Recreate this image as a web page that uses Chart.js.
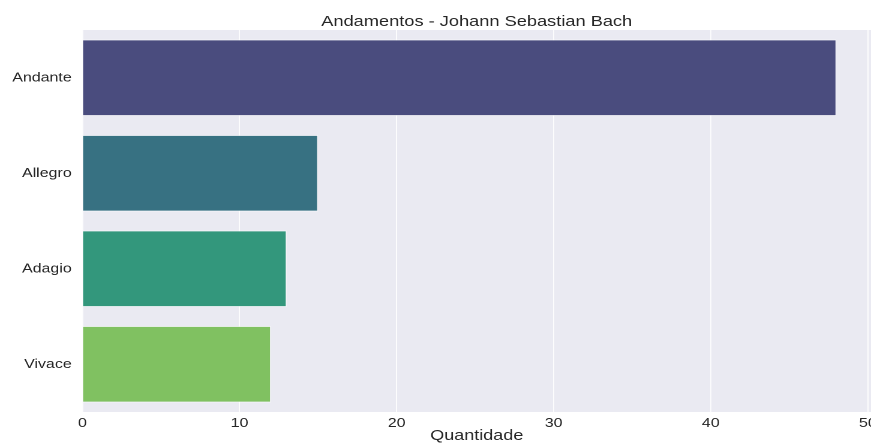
<!DOCTYPE html>
<html>
<head>
<meta charset="utf-8">
<title>Andamentos - Johann Sebastian Bach</title>
<script src="https://cdn.jsdelivr.net/npm/chart.js@4.4.1/dist/chart.umd.min.js"></script>
<style>
  html, body { margin: 0; padding: 0; background: #fff; overflow: hidden; }
  /* the figure is drawn narrow and widened, like a stretched matplotlib export */
  #wrap { width: 726px; height: 443px; transform: scale(1.1997, 1); transform-origin: 0 0; }
</style>
</head>
<body>
<div id="wrap"><canvas id="chart" width="726" height="443"></canvas></div>
<script>
const andamentos = ['Andante', 'Allegro', 'Adagio', 'Vivace'];
const quantidades = [48, 15, 13, 12];
const barColors = ['#4a4c7e', '#377182', '#33977c', '#80c161'];
const xTicks = [0, 10, 20, 30, 40, 50];
const xMax = 50.2;
const chartTitle = 'Andamentos - Johann Sebastian Bach';
const xLabel = 'Quantidade';

const textColor = '#262626';
const fontFamily = '"Liberation Sans", Arial, sans-serif';

// seaborn darkgrid background + title centred over the plot area
const darkgrid = {
    id: 'darkgrid',
    beforeDraw(chart) {
        const { ctx, chartArea: a } = chart;
        ctx.save();
        ctx.fillStyle = '#eaeaf2';
        ctx.fillRect(a.left, a.top, a.right - a.left, a.bottom - a.top);
        ctx.restore();
    },
    afterDraw(chart) {
        const { ctx, chartArea: a } = chart;
        ctx.save();
        ctx.font = '15.2px ' + fontFamily;
        ctx.fillStyle = textColor;
        ctx.textAlign = 'center';
        ctx.textBaseline = 'alphabetic';
        ctx.fillText(chartTitle, (a.left + a.right) / 2, 26);
        ctx.restore();
    }
};

const ctx = document.getElementById('chart').getContext('2d');
new Chart(ctx, {
    type: 'bar',
    data: {
        labels: andamentos,
        datasets: [{
            data: quantidades,
            backgroundColor: barColors,
            borderColor: 'rgba(255, 255, 255, 0.5)',
            borderWidth: 0.8,
            categoryPercentage: 0.8,
            barPercentage: 1
        }]
    },
    options: {
        indexAxis: 'y',
        responsive: false,
        devicePixelRatio: 2,
        animation: false,
        layout: { padding: { top: 30, right: 0, bottom: 0, left: 0 } },
        scales: {
            x: {
                type: 'linear',
                position: 'bottom',
                min: 0,
                max: xMax,
                afterBuildTicks: (scale) => {
                    scale.ticks = xTicks.map(v => ({ value: v }));
                },
                afterFit: (scale) => {
                    scale.height = 31;
                    scale.paddingLeft = 0;
                    scale.paddingRight = 0;
                },
                grid: { color: '#ffffff', lineWidth: 0.85, drawTicks: false },
                border: { display: false },
                ticks: {
                    autoSkip: false,
                    maxRotation: 0,
                    padding: 3.5,
                    color: textColor,
                    font: { family: fontFamily, size: 13.3 }
                },
                title: {
                    display: true,
                    text: xLabel,
                    color: textColor,
                    font: { family: fontFamily, size: 15 },
                    padding: { top: 0, bottom: -2 }
                }
            },
            y: {
                afterFit: (scale) => {
                    scale.width = 68.75;
                    scale.paddingTop = 0;
                    scale.paddingBottom = 0;
                },
                grid: { display: false },
                border: { display: false },
                ticks: {
                    padding: 1,
                    color: textColor,
                    font: { family: fontFamily, size: 13.3 }
                }
            }
        },
        plugins: {
            legend: { display: false },
            tooltip: { enabled: false },
            title: { display: false }
        }
    },
    plugins: [darkgrid]
});
</script>
</body>
</html>
